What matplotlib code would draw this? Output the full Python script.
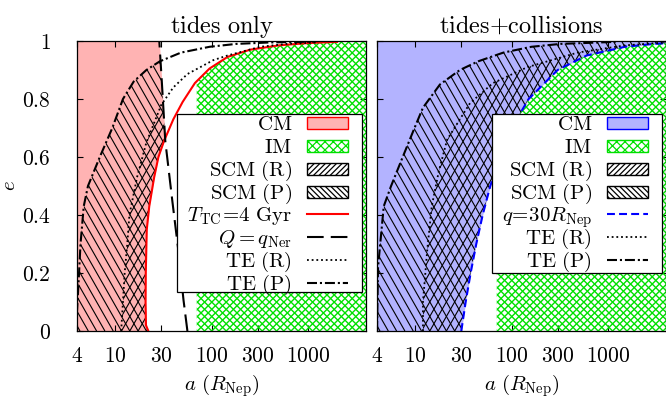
import numpy as np
import matplotlib
matplotlib.use("Agg")
import matplotlib.pyplot as plt
from matplotlib.collections import LineCollection
from matplotlib.path import Path
from matplotlib.patches import Rectangle

plt.rcParams["mathtext.fontset"] = "cm"
plt.rcParams["font.family"] = "serif"
plt.rcParams["font.serif"] = ["cmr10", "DejaVu Serif"]
plt.rcParams["hatch.linewidth"] = 0.9

# axes ---------------------------------------------------------------
a_ticks = [4, 10, 30, 100, 300, 1000]
a_tick_labels = ["$4$", "$10$", "$30$", "$100$", "$300$", "$1000$"]
e_ticks = [0, 0.2, 0.4, 0.6, 0.8, 1]
e_tick_labels = ["$0$", "$0.2$", "$0.4$", "$0.6$", "$0.8$", "$1$"]
a_min, a_max = 4, 4000
a_im = 70  # inner edge of the IM zone (R_Nep)

# tides only ---------------------------------------------------------
ttc_e = [0.0, 0.02, 0.1, 0.2, 0.35, 0.43, 0.53, 0.6, 0.655, 0.73, 0.79, 0.855, 0.905, 0.945, 0.97, 0.985, 0.993, 0.997]
ttc_a = [22, 20.8, 20.6, 20.7, 21.2, 22.5, 25.3, 28, 32, 40, 50, 67, 95, 146, 250, 500, 1000, 2000]

qner_e = [0.0, 0.107, 0.28, 0.45, 0.655, 0.85, 1.0]
qner_a = [56, 51, 45, 39, 33, 30.5, 28.6]

ter1_e = [0.0, 0.1, 0.2, 0.3, 0.4, 0.53, 0.65, 0.78, 0.84, 0.886, 0.934, 0.95, 0.98, 0.99, 0.995]
ter1_a = [11.5, 12.0, 12.5, 13.3, 14.0, 16.8, 21.0, 30, 40, 56, 104, 146, 320, 600, 1200]

tep1_e = [0.0, 0.1, 0.2, 0.3, 0.43, 0.5, 0.6, 0.7, 0.8, 0.86, 0.9, 0.93, 0.96, 0.98, 0.99, 0.995, 0.998]
tep1_a = [3.9, 4.05, 4.2, 4.35, 4.7, 5.2, 6.9, 9.3, 12.0, 15.5, 21, 29, 48, 95, 180, 400, 1200]

# tides+collisions ---------------------------------------------------
q30_e = [0.0, 0.1, 0.2, 0.3, 0.4, 0.5, 0.6, 0.7, 0.8, 0.9, 0.95, 0.98, 0.99, 0.993]
q30_a = [30, 33.3, 37.5, 42.9, 50, 60, 75, 100, 150, 300, 600, 1500, 3000, 4300]

ter2_e = [0.0, 0.1, 0.28, 0.43, 0.55, 0.66, 0.786, 0.855, 0.91, 0.96, 0.985, 0.995]
ter2_a = [12, 12, 13.3, 14.8, 17.5, 21.4, 37, 64, 146, 484, 1500, 4000]

tep2_e = [0.0, 0.22, 0.43, 0.5, 0.6, 0.7, 0.77, 0.85, 0.9, 0.93, 0.96, 0.98, 0.99, 0.997]
tep2_a = [4.0, 4.1, 4.7, 5.6, 7.4, 9.8, 12, 18, 29, 45, 82, 160, 321, 1200]

labels_tides = [r"$\mathrm{CM}$", r"$\mathrm{IM}$", r"$\mathrm{SCM\ (R)}$", r"$\mathrm{SCM\ (P)}$",
                r"$T_{\mathrm{TC}}\!=\!4\ \mathrm{Gyr}$", r"$Q = q_{\mathrm{Ner}}$",
                r"$\mathrm{TE\ (R)}$", r"$\mathrm{TE\ (P)}$"]
labels_coll = [r"$\mathrm{CM}$", r"$\mathrm{IM}$", r"$\mathrm{SCM\ (R)}$", r"$\mathrm{SCM\ (P)}$",
               r"$q\!=\!30R_{\mathrm{Nep}}$", r"$\mathrm{TE\ (R)}$", r"$\mathrm{TE\ (P)}$"]

PINK = "#ffb3b3"
BLUE_FILL = "#b3b3ff"
GREEN = "#00e000"
FS = 15

LS_DOT = (0, (1, 1.6))
LS_DASHDOT = (0, (4.8, 1.4, 1, 1.4))
LS_LONG = (0, (8, 3.4))
LS_BLUE = (0, (3.8, 2))

E = np.linspace(0, 1, 1001)


def on_grid(e_pts, a_pts):
    return 10 ** np.interp(E, e_pts, np.log10(a_pts))


def region(xl, xr):
    xl = np.clip(xl, a_min, a_max)
    xr = np.clip(xr, a_min, a_max)
    xr = np.maximum(xl, xr)
    verts = np.concatenate([np.column_stack([xl, E]), np.column_stack([xr, E])[::-1]])
    return xl, xr, Path(verts)


def hatch(ax, path, sign, step, slope, color, lw):
    x0 = np.arange(-2, 2, step)
    segs = [[(x, 0), (x + sign / slope, 1)] for x in x0]
    lc = LineCollection(segs, colors=color, linewidths=lw, transform=ax.transAxes, zorder=2)
    ax.add_collection(lc, autolim=False)
    lc.set_clip_path(path, ax.transData)


def style(ax, ylabels):
    ax.set_xscale("log")
    ax.set_xlim(a_min, a_max)
    ax.set_ylim(0, 1)
    ax.set_xticks(a_ticks)
    ax.set_xticklabels(a_tick_labels)
    ax.minorticks_off()
    ax.set_yticks(e_ticks)
    if ylabels:
        ax.set_yticklabels(e_tick_labels)
        ax.set_ylabel("$e$", fontsize=FS, labelpad=2)
    else:
        ax.set_yticklabels([])
    ax.tick_params(direction="in", top=True, right=True, length=4, width=0.8, labelsize=15.5)
    ax.tick_params(axis="x", pad=11)
    ax.tick_params(axis="y", pad=19)
    ax.set_xlabel(r"$a\ (R_{\mathrm{Nep}})$", fontsize=FS, labelpad=5)
    for s in ax.spines.values():
        s.set_linewidth(0.9)
        s.set_zorder(4)


def key(ax, bottom, labels, handles):
    # legend box drawn row by row so all rows share one pitch
    top, x0, x1 = 0.748, 0.346 if len(labels) == 8 else 0.398, 0.986
    ax.add_patch(Rectangle((x0, bottom), x1 - x0, top - bottom, transform=ax.transAxes,
                           facecolor="white", edgecolor="black", lw=0.9, zorder=10))
    for i, (lab, h) in enumerate(zip(labels, handles)):
        yc = 0.717 - 0.0788 * i
        ax.text(0.744, yc - 0.024, lab, ha="right", va="baseline", fontsize=FS,
                transform=ax.transAxes, zorder=11)
        if h[0] == "patch":
            ax.add_patch(Rectangle((0.797, yc - 0.0205), 0.141, 0.041, transform=ax.transAxes,
                                   zorder=11, lw=1, **h[1]))
        else:
            ax.plot([0.797, 0.938], [yc, yc], transform=ax.transAxes, zorder=11, **h[1])


fig = plt.figure(figsize=(6.66, 3.99), dpi=100)
ax1 = fig.add_axes([77 / 666, 68 / 399, 289 / 666, 290 / 399])
ax2 = fig.add_axes([377 / 666, 68 / 399, 289 / 666, 290 / 399])

step_k = 8.3 / 289
step_g = 7.2 / 289
slope_k = 1.75

# ---- tides only ----
ttc = on_grid(ttc_e, ttc_a)
qner = on_grid(qner_e, qner_a)
ter1 = on_grid(ter1_e, ter1_a)
tep1 = on_grid(tep1_e, tep1_a)
edge1 = np.minimum(ttc, qner)

xl, xr, _ = region(np.full_like(E, a_min), edge1)
ax1.fill_betweenx(E, xl, xr, color=PINK, lw=0, zorder=1)
_, _, p = region(np.maximum(ttc, a_im), np.full_like(E, a_max))
hatch(ax1, p, 1, step_g, 1.0, GREEN, 1.0)
hatch(ax1, p, -1, step_g, 1.0, GREEN, 1.0)
_, _, p = region(tep1, edge1)
hatch(ax1, p, -1, step_k, slope_k, "black", 0.8)
_, _, p = region(ter1, edge1)
hatch(ax1, p, 1, step_k, slope_k, "black", 0.8)

ax1.plot(ttc_a, ttc_e, color="red", lw=1.5, zorder=3)
ax1.plot(qner_a, qner_e, color="black", lw=1.5, ls=LS_LONG, zorder=3)
ax1.plot(ter1_a, ter1_e, color="black", lw=1.3, ls=LS_DOT, zorder=3)
ax1.plot(tep1_a, tep1_e, color="black", lw=1.5, ls=LS_DASHDOT, zorder=3)

style(ax1, True)
ax1.set_title(r"$\mathrm{tides\ only}$", fontsize=17.5, pad=6)

# ---- tides+collisions ----
q30 = on_grid(q30_e, q30_a)
ter2 = on_grid(ter2_e, ter2_a)
tep2 = on_grid(tep2_e, tep2_a)

xl, xr, _ = region(np.full_like(E, a_min), q30)
ax2.fill_betweenx(E, xl, xr, color=BLUE_FILL, lw=0, zorder=1)
_, _, p = region(np.maximum(q30, a_im), np.full_like(E, a_max))
hatch(ax2, p, 1, step_g, 1.0, GREEN, 1.0)
hatch(ax2, p, -1, step_g, 1.0, GREEN, 1.0)
_, _, p = region(tep2, q30)
hatch(ax2, p, -1, step_k, slope_k, "black", 0.8)
_, _, p = region(ter2, q30)
hatch(ax2, p, 1, step_k, slope_k, "black", 0.8)

ax2.plot(q30_a, q30_e, color="blue", lw=1.5, ls=LS_BLUE, zorder=3)
ax2.plot(ter2_a, ter2_e, color="black", lw=1.3, ls=LS_DOT, zorder=3)
ax2.plot(tep2_a, tep2_e, color="black", lw=1.5, ls=LS_DASHDOT, zorder=3)

style(ax2, False)
ax2.set_title(r"$\mathrm{tides{+}collisions}$", fontsize=17.5, pad=6)

# ---- legends ----
im_h = ("patch", dict(facecolor="white", edgecolor=GREEN, hatch="xxxx"))
scmr_h = ("patch", dict(facecolor="white", edgecolor="black", hatch="//////"))
scmp_h = ("patch", dict(facecolor="white", edgecolor="black", hatch="\\\\\\\\\\\\"))
ter_h = ("line", dict(color="black", lw=1.3, ls=LS_DOT))
tep_h = ("line", dict(color="black", lw=1.5, ls=LS_DASHDOT))

key(ax1, 0.134, labels_tides,
    [("patch", dict(facecolor=PINK, edgecolor="red")), im_h, scmr_h, scmp_h,
     ("line", dict(color="red", lw=1.5)), ("line", dict(color="black", lw=1.5, ls=LS_LONG)),
     ter_h, tep_h])
key(ax2, 0.2, labels_coll,
    [("patch", dict(facecolor=BLUE_FILL, edgecolor="blue")), im_h, scmr_h, scmp_h,
     ("line", dict(color="blue", lw=1.5, ls=LS_BLUE)), ter_h, tep_h])

fig.savefig("out.png", dpi=100)
